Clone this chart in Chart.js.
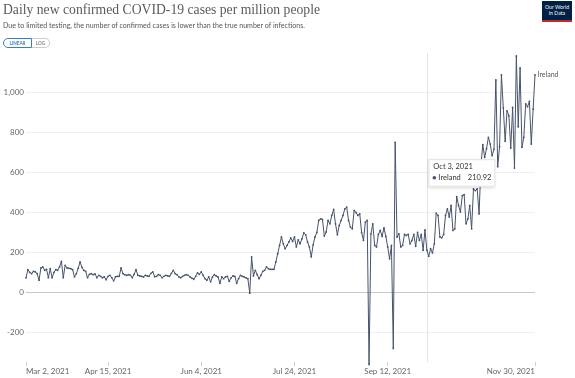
<!DOCTYPE html>
<html><head><meta charset="utf-8">
<script src="https://cdn.jsdelivr.net/npm/chart.js@4.4.0/dist/chart.umd.min.js"></script>
<style>
html,body{margin:0;padding:0;background:#fff;width:575px;height:378px;overflow:hidden;}
#wrap{position:relative;width:575px;height:378px;}
#c{position:absolute;left:0;top:0;}
.t{position:absolute;white-space:nowrap;transform-origin:0 0;}
#title{left:3px;top:1px;font-family:"Liberation Serif",serif;font-size:15px;color:#5b5b5b;}
#sub{left:3px;top:21px;font-family:Lato,sans-serif;font-size:7px;color:#555;}
#btns{position:absolute;left:3px;top:38px;height:9px;display:flex;font-family:Lato,sans-serif;font-size:4.6px;font-weight:bold;}
#lin{border:1px solid #3b7dc4;color:#3b7dc4;border-radius:5px 0 0 5px;width:27px;height:8px;line-height:8px;text-align:center;}
#log{border:1px solid #ccc;border-left:none;color:#888;border-radius:0 5px 5px 0;width:17px;height:8px;line-height:8px;text-align:center;}
#logo{position:absolute;left:542px;top:1px;width:30px;height:21px;background:#002147;border-bottom:2px solid #ce261e;box-sizing:border-box;color:#fff;font-family:Lato,sans-serif;font-size:5.2px;line-height:5.6px;text-align:center;padding-top:4px;}
</style></head>
<body><div id="wrap">
<canvas id="c" width="575" height="378"></canvas>
<div id="title" class="t">Daily new confirmed COVID-19 cases per million people</div>
<div id="sub" class="t">Due to limited testing, the number of confirmed cases is lower than the true number of infections.</div>
<div id="btns"><div id="lin">LINEAR</div><div id="log">LOG</div></div>
<div id="logo">Our World<br>in Data</div>
</div>
<script>
// Day 0 = Mar 2, 2021 ... day 273 = Nov 30, 2021
const seriesName = 'Ireland';
const values = [
 72,113,100,93,105,102,93,60,122,127,
 110,115,73,118,72,100,113,110,127,155,
 73,135,122,120,118,113,77,93,120,152,
 125,110,105,73,90,93,88,92,73,85,
 80,73,77,63,80,85,73,57,77,80,
 80,122,93,88,85,88,85,73,90,113,
 85,82,80,77,85,82,80,95,102,78,
 80,88,85,73,80,85,82,80,95,110,
 93,88,77,73,80,85,88,85,77,70,
 65,80,97,90,102,85,68,60,77,52,
 77,88,82,77,45,77,68,77,80,55,
 72,82,80,45,68,85,80,77,72,68,
 -5,177,82,110,88,68,85,105,110,127,
 118,115,115,115,152,193,235,277,243,218,
 235,252,272,255,277,227,263,243,268,298,
 288,252,227,177,238,277,300,360,368,365,
 282,302,360,343,385,415,343,288,335,360,
 385,418,427,360,327,318,410,400,385,393,
 300,260,352,360,-362,293,343,235,227,290,
 310,280,323,280,227,168,235,-282,752,277,
 293,227,235,290,285,290,243,260,290,230,
 300,260,290,210,313,210.92,180,218,197,243,
 397,385,277,273,290,385,418,377,435,310,
 318,480,435,402,485,490,343,368,435,318,
 518,510,518,393,635,740,677,720,777,743,
 685,717,1065,630,730,1090,925,757,910,885,
 723,927,623,1185,830,1125,727,777,945,930,
 957,743,918,1090
];
const tickDays = [0,44,94,144,194,273];
const tickLabels = ['Mar 2, 2021','Apr 15, 2021','Jun 4, 2021','Jul 24, 2021','Sep 12, 2021','Nov 30, 2021'];
const yTicks = [-200,0,200,400,600,800,1000];
const tooltipDay = 215;
const tooltipDate = 'Oct 3, 2021';

const lineColor = '#47536c';
function fit(id,w){const el=document.getElementById(id);const r=el.getBoundingClientRect().width;el.style.transform='scaleX('+(w/r)+')';}
fit('title',317);fit('sub',302);

const overlay = {
  id:'overlay',
  beforeDatasetsDraw(chart){
    const {ctx,chartArea,scales:{x}} = chart;
    const hx = Math.round(x.getPixelForValue(tooltipDay))+0.5;
    ctx.save();ctx.strokeStyle='#e4e4e4';ctx.lineWidth=1;
    ctx.beginPath();ctx.moveTo(hx,chartArea.top);ctx.lineTo(hx,chartArea.bottom);ctx.stroke();ctx.restore();
  },
  afterDatasetsDraw(chart){
    const {ctx,scales:{x,y}} = chart;
    const n = values.length-1;
    const lx = x.getPixelForValue(n), ly = y.getPixelForValue(values[n]);
    ctx.save();
    ctx.font='7px Lato';ctx.fillStyle='#555';ctx.textBaseline='middle';ctx.textAlign='left';
    ctx.fillText(seriesName,lx+2.5,ly);
    const hx = x.getPixelForValue(tooltipDay), hy = y.getPixelForValue(values[tooltipDay]);
    const bx = hx+1.5, by = hy-91, bw = 67, bh = 27.5;
    ctx.shadowColor='rgba(0,0,0,0.15)';ctx.shadowBlur=3;ctx.shadowOffsetY=1;
    ctx.fillStyle='#fff';ctx.fillRect(bx,by,bw,bh);
    ctx.shadowColor='transparent';
    ctx.strokeStyle='#e2e2e2';ctx.lineWidth=1;ctx.strokeRect(bx+0.5,by+0.5,bw-1,bh-1);
    ctx.fillStyle='#333';ctx.font='7.5px Lato';
    ctx.fillText(tooltipDate,bx+5,by+7.5);
    ctx.beginPath();ctx.arc(bx+6,by+18.5,1.8,0,Math.PI*2);ctx.fillStyle=lineColor;ctx.fill();
    ctx.fillStyle='#333';ctx.fillText(seriesName,bx+10,by+18.5);
    ctx.textAlign='right';ctx.fillText(values[tooltipDay].toFixed(2),bx+bw-4,by+18.5);
    ctx.restore();
  }
};

new Chart(document.getElementById('c'),{
  type:'line',
  data:{datasets:[{
    label:seriesName,
    data:values.map((v,i)=>({x:i,y:v})),
    borderColor:lineColor,borderWidth:1,
    pointRadius:0.9,pointBackgroundColor:lineColor,pointBorderWidth:0,
    tension:0,fill:false,clip:false
  }]},
  options:{
    responsive:false,animation:false,devicePixelRatio:1,
    layout:{padding:{top:53,right:40,left:0,bottom:0}},
    plugins:{legend:{display:false},tooltip:{enabled:false}},
    events:[],
    scales:{
      x:{type:'linear',min:0,max:273,
        afterBuildTicks:s=>{s.ticks=tickDays.map(v=>({value:v}));},
        afterFit:s=>{s.height=16;},
        ticks:{callback:v=>tickLabels[tickDays.indexOf(v)],align:'inner',maxRotation:0,autoSkip:false,
          font:{family:'Lato',size:8},color:'#666',padding:1},
        grid:{drawOnChartArea:false,drawTicks:true,tickLength:4,color:'#cfcfcf'},
        border:{display:false}
      },
      y:{min:-350,max:1200,
        afterBuildTicks:s=>{s.ticks=yTicks.map(v=>({value:v}));},
        afterFit:s=>{s.width=26;},
        ticks:{callback:v=>v.toLocaleString('en-US'),font:{family:'Lato',size:8},color:'#666',padding:2},
        grid:{drawTicks:false,color:c=>c.tick&&c.tick.value===0?'#c8c8c8':'#efefef',lineWidth:1},
        border:{display:false}
      }
    }
  },
  plugins:[overlay]
});
</script>
</body></html>
